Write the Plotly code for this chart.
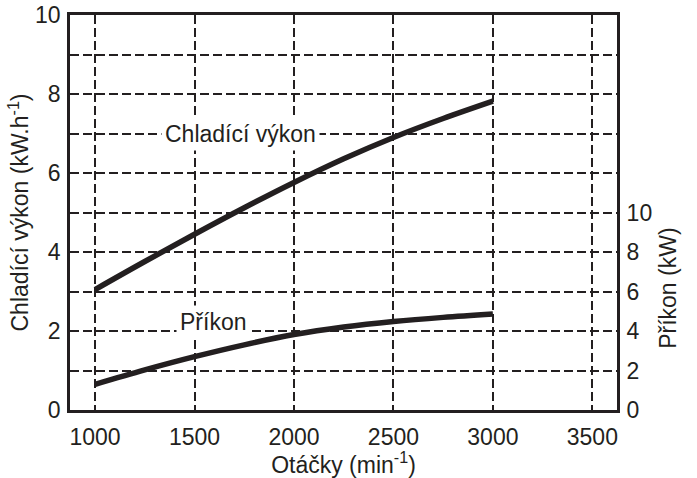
import plotly.graph_objects as go

# Data
otacky = [1000, 1250, 1500, 1750, 2000, 2250, 2500, 2750, 3000]          # min^-1
chladici_vykon = [3.05, 3.76, 4.45, 5.12, 5.76, 6.36, 6.9, 7.38, 7.82]    # kW.h^-1 (left axis)
prikon = [1.3, 2.03, 2.7, 3.3, 3.82, 4.2, 4.48, 4.69, 4.86]               # kW (right axis)

x_ticks = [1000, 1500, 2000, 2500, 3000, 3500]
y_left_ticks = [0, 2, 4, 6, 8, 10]
y_right_ticks = [0, 2, 4, 6, 8, 10]

INK = "#231f20"
FONT = "Liberation Sans, Arial, Helvetica, sans-serif"
FS = 23

fig = go.Figure()
fig.add_trace(go.Scatter(x=otacky, y=chladici_vykon, mode="lines",
                         line=dict(color=INK, width=5.5, shape="spline"),
                         yaxis="y", showlegend=False, hoverinfo="skip"))
fig.add_trace(go.Scatter(x=otacky, y=prikon, mode="lines",
                         line=dict(color=INK, width=5.5, shape="spline"),
                         yaxis="y2", showlegend=False, hoverinfo="skip"))

grid = dict(gridcolor=INK, gridwidth=1.6, griddash="9px,4px")

fig.update_layout(
    width=697, height=478,
    margin=dict(l=70, r=80, t=15, b=68),
    paper_bgcolor="white", plot_bgcolor="white",
    font=dict(family=FONT, size=FS, color=INK),
    xaxis=dict(range=[874, 3624], tickvals=x_ticks, showgrid=True, **grid,
               showline=True, linecolor=INK, linewidth=2.8, mirror=True,
               ticks="outside", ticklen=4, tickcolor="rgba(0,0,0,0)",
               zeroline=False, automargin=False,
               title=dict(text="Otáčky (min<sup>-1</sup>)", standoff=0,
                          font=dict(size=FS))),
    yaxis=dict(range=[0, 10], tickvals=y_left_ticks, showgrid=True, **grid,
               minor=dict(dtick=1, tick0=0, showgrid=True, **grid),
               showline=True, linecolor=INK, linewidth=2.8, mirror=True,
               ticks="outside", ticklen=2, tickcolor="rgba(0,0,0,0)",
               zeroline=False, automargin=False,
               title=dict(text="Chladící výkon (kW.h<sup>-1</sup>)", standoff=0,
                          font=dict(size=FS))),
    yaxis2=dict(range=[0, 20], tickvals=y_right_ticks, overlaying="y", side="right",
                showgrid=False, showline=False, zeroline=False, automargin=False,
                ticks="outside", ticklen=4, tickcolor="rgba(0,0,0,0)"),
    annotations=[
        dict(x=1729, y=7, xref="x", yref="y", text="Chladící výkon", showarrow=False,
             bgcolor="white", borderpad=3, font=dict(size=FS, color=INK)),
        dict(x=1593, y=2.22, xref="x", yref="y", text="Příkon", showarrow=False,
             bgcolor="white", borderpad=3, font=dict(size=FS, color=INK)),
        dict(x=1.093, y=0.309, xref="paper", yref="paper", text="Příkon (kW)",
             showarrow=False, textangle=-90, xanchor="center", yanchor="middle",
             font=dict(size=FS, color=INK)),
    ],
)

fig.write_html("out.html", config={"displayModeBar": False},
               post_script="document.body.style.margin='0';document.body.style.padding='0';")
